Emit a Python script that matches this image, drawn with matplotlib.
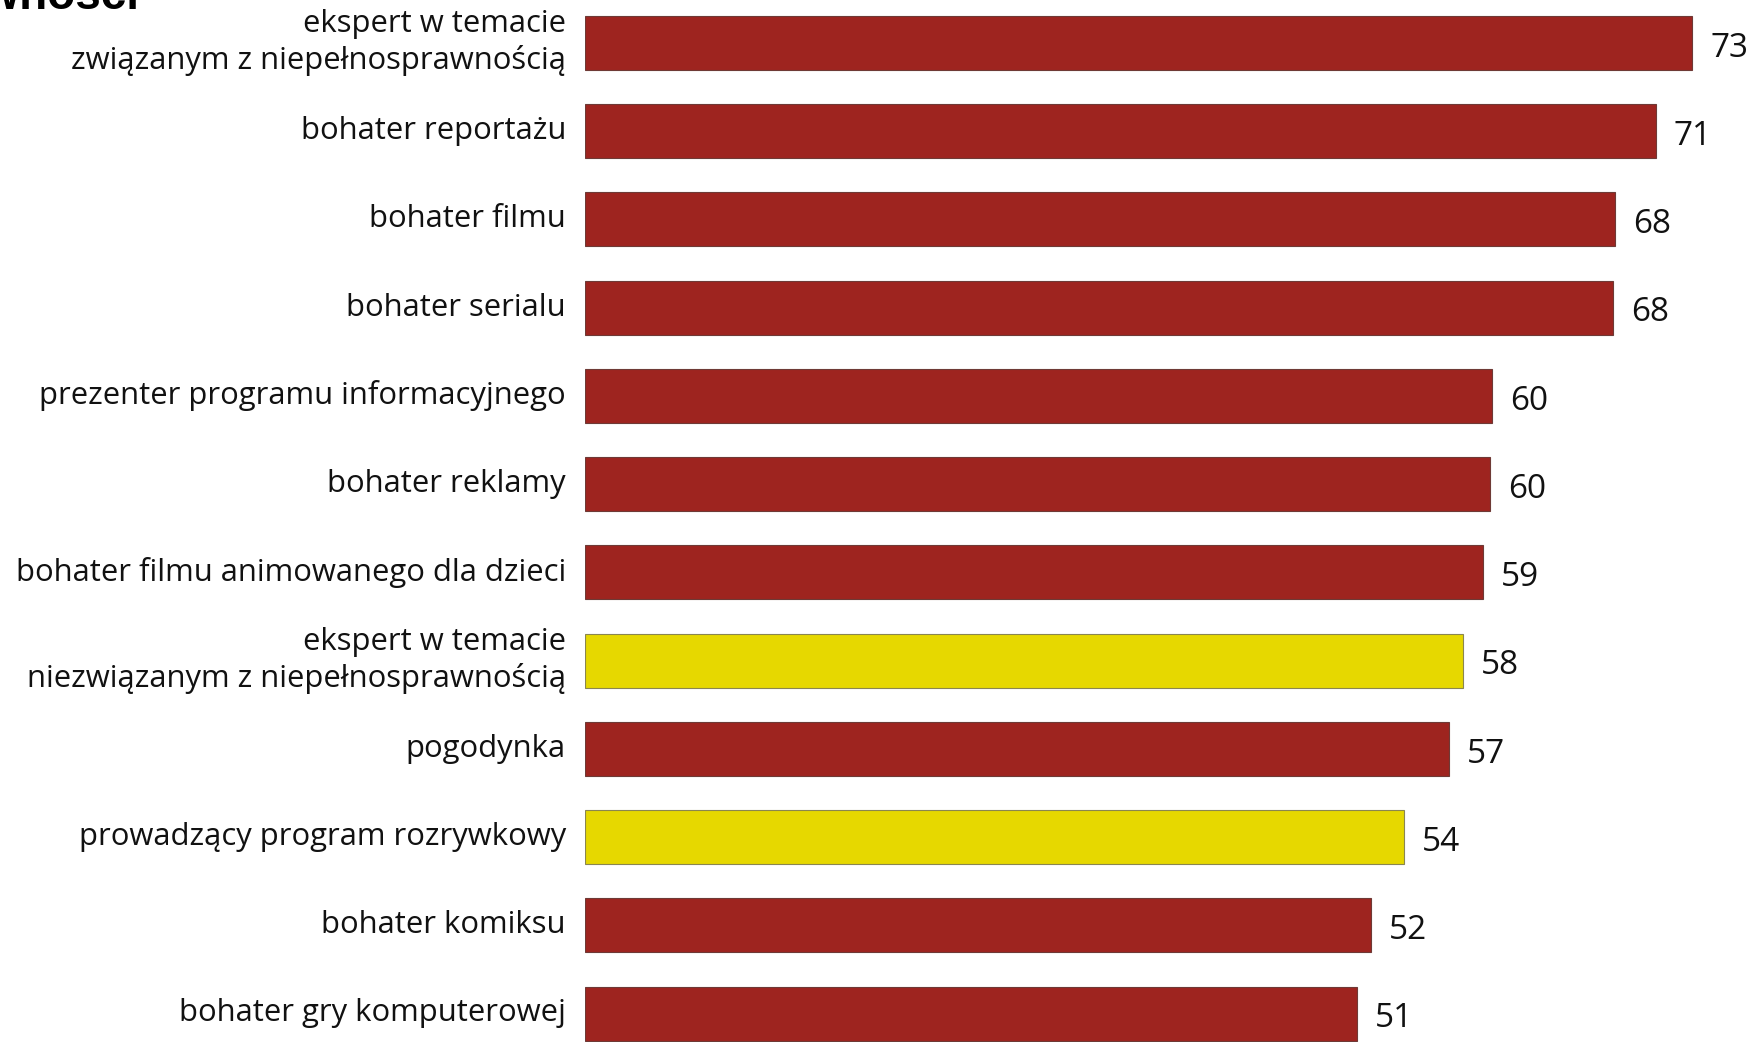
import matplotlib.pyplot as plt
import numpy as np

# data
categories = [
  'ekspert w temacie\nzwiązanym z niepełnosprawnością',
  'bohater reportażu',
  'bohater filmu',
  'bohater serialu',
  'prezenter programu informacyjnego',
  'bohater reklamy',
  'bohater filmu animowanego dla dzieci',
  'ekspert w temacie\nniezwiązanym z niepełnosprawnością',
  'pogodynka',
  'prowadzący program rozrywkowy',
  'bohater komiksu',
  'bohater gry komputerowej',
]
values = [73, 71, 68, 68, 60, 60, 59, 58, 57, 54, 52, 51]
# bar lengths slightly differ from the rounded labels in the original
lengths = [73.0, 70.6, 67.9, 67.8, 59.8, 59.7, 59.2, 57.9, 57.0, 54.0, 51.8, 50.9]
highlight = [False, False, False, False, False, False, False, True, False, True, False, False]

RED = '#9e241f'
YELLOW = '#e6d800'

W, H = 1758, 1042
fig = plt.figure(figsize=(W / 100, H / 100), dpi=100)

x0 = 585
px_per_unit = (1692 - x0) / lengths[0]
ax = fig.add_axes([x0 / W, 0, (W - x0) / W, 1])
ax.set_xlim(0, (W - x0) / px_per_unit)

pitch = (1013.5 - 43) / 11
ax.set_ylim((H - 43) / pitch, -43 / pitch)

ys = np.arange(len(categories))
colors = [YELLOW if h else RED for h in highlight]
edges = ['#8a8650' if h else '#6e3a36' for h in highlight]
ax.barh(ys, lengths, height=54 / pitch, color=colors, edgecolor=edges, linewidth=0.8)

gap = 18 / px_per_unit
for y, l, v in zip(ys, lengths, values):
  ax.text(l + gap, y + 0.06, str(v), va='center', ha='left',
          fontsize=24, family='Open Sans', color='#111111')

for y, c in zip(ys, categories):
  ax.text(-19 / px_per_unit, y, c, va='center', ha='right', multialignment='right',
          fontsize=22.3, family='Open Sans', color='#111111', linespacing=1.25,
          clip_on=False)

ax.axis('off')

# clipped title at the very top
fig.text(140 / W, 1 - 9 / H, 'niepełnosprawności', ha='right', va='baseline',
         fontsize=33, fontweight='bold', family='Liberation Sans')

plt.savefig('out.png', dpi=100)
